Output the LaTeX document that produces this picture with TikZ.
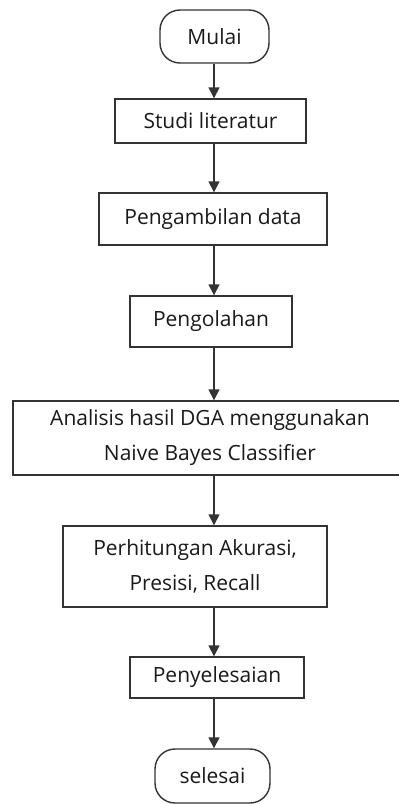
\documentclass[tikz,border=0pt]{standalone}
\usepackage{fontspec}
\setmainfont{Open Sans}
\usetikzlibrary{arrows.meta}
\definecolor{ln}{HTML}{333333}
\tikzset{
  box/.style={draw=ln, line width=1.4pt, rectangle, inner sep=0pt, align=center, font=\fontsize{21}{35}\selectfont, text=black!90},
  term/.style={box, rounded corners=20pt},
  flow/.style={draw=ln, line width=1.4pt, -{Triangle[length=11pt,width=11pt]}}
}
\begin{document}
\begin{tikzpicture}[x=1pt,y=-1pt]
\useasboundingbox (0,0) rectangle (399,804);
\begin{scope}
\clip (0,0) rectangle (399,804);
\node[term, minimum width=109pt, minimum height=53pt] (mulai) at (214.5,36.5) {Mulai};
\node[box, minimum width=191pt, minimum height=44pt] (studi) at (210.5,121) {Studi literatur};
\node[box, minimum width=228pt, minimum height=52pt] (ambil) at (213,219) {Pengambilan data};
\node[box, minimum width=162pt, minimum height=51pt] (olah) at (211,321.5) {Pengolahan};
\node[box, minimum width=394pt, minimum height=74pt] (analisis) at (210,438) {Analisis hasil DGA menggunakan\\Naive Bayes Classifier};
\node[box, minimum width=264pt, minimum height=81pt] (hitung) at (195,566.5) {Perhitungan Akurasi,\\Presisi, Recall};
\node[box, minimum width=174pt, minimum height=41pt] (selesaikan) at (217,677.5) {Penyelesaian};
\node[term, minimum width=115pt, minimum height=54pt] (selesai) at (212.5,776) {selesai};
\coordinate (ax) at (214,0);
\draw[flow] (mulai.south -| ax) -- (studi.north -| ax);
\draw[flow] (studi.south -| ax) -- (ambil.north -| ax);
\draw[flow] (ambil.south -| ax) -- (olah.north -| ax);
\draw[flow] (olah.south -| ax) -- (analisis.north -| ax);
\draw[flow] (analisis.south -| ax) -- (hitung.north -| ax);
\draw[flow] (hitung.south -| ax) -- (selesaikan.north -| ax);
\draw[flow] (selesaikan.south -| ax) -- (selesai.north -| ax);
\end{scope}
\end{tikzpicture}
\end{document}
